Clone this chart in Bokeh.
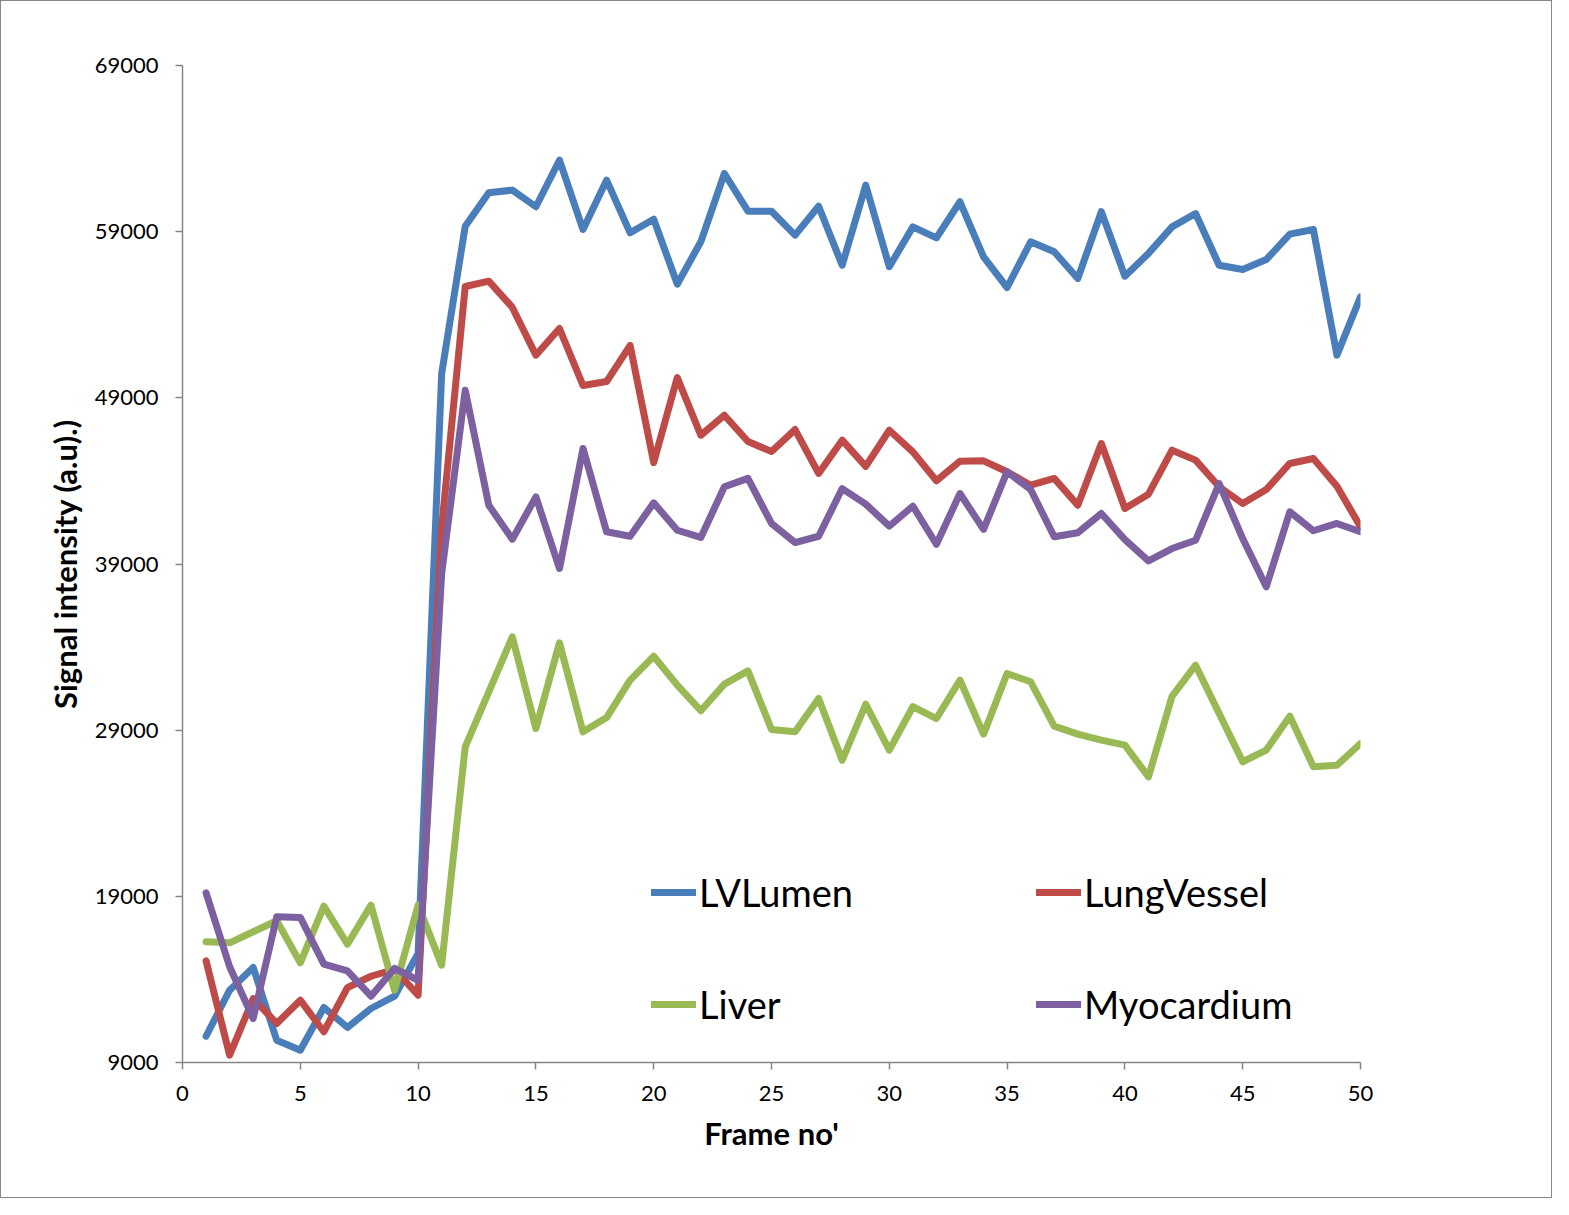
from bokeh.plotting import figure
from bokeh.models import Range1d, FixedTicker, Legend, LegendItem
from bokeh.embed import file_html
from bokeh.resources import INLINE

frames = list(range(1, 51))

lv_lumen = [10580, 13350, 14720, 10340, 9740, 12310, 11110, 12250, 12990, 15560,
            50460, 59330, 61340, 61500, 60500, 63300, 59130, 62100, 58930, 59750,
            55840, 58390, 62500, 60230, 60230, 58790, 60530, 56980, 61800, 56890,
            59290, 58630, 60800, 57490, 55640, 58390, 57790, 56180, 60200, 56320,
            57690, 59290, 60090, 56980, 56720, 57320, 58850, 59130, 51570, 55080]

lung_vessel = [15120, 9440, 12850, 11350, 12750, 10850, 13510, 14190, 14600, 13050,
               41200, 55700, 56020, 54440, 51570, 53170, 49740, 49980, 52150, 45110,
               50220, 46750, 47950, 46370, 45770, 47090, 44450, 46450, 44870, 47050,
               45750, 44010, 45190, 45210, 44550, 43740, 44150, 42540, 46250, 42340,
               43200, 45850, 45250, 43650, 42640, 43480, 45050, 45350, 43680, 41240]

liver = [16260, 16200, 16870, 17530, 15000, 18410, 16120, 18470, 13350, 18470,
         14860, 28000, 31310, 34620, 29100, 34260, 28900, 29760, 32010, 33450,
         31710, 30170, 31770, 32570, 29040, 28900, 30910, 27190, 30560, 27800,
         30410, 29700, 32010, 28760, 32410, 31910, 29240, 28760, 28400, 28100,
         26190, 31040, 32910, 30000, 27100, 27800, 29840, 26800, 26890, 28200]

myocardium = [19210, 14760, 11650, 17770, 17730, 14920, 14520, 12990, 14660, 13950,
              38430, 49460, 42540, 40490, 43040, 38730, 45950, 40940, 40670, 42680,
              41030, 40600, 43650, 44150, 41440, 40290, 40670, 43540, 42600, 41280,
              42480, 40190, 43240, 41080, 44550, 43480, 40640, 40880, 42040, 40470,
              39190, 39930, 40430, 43840, 40530, 37630, 42140, 41000, 41440, 40940]

series_names = ["LVLumen", "LungVessel", "Liver", "Myocardium"]
series_values = [lv_lumen, lung_vessel, liver, myocardium]
series_colors = ["#4A7EBB", "#BE4B48", "#98B954", "#7D60A0"]

x_ticks = list(range(0, 51, 5))
y_ticks = list(range(9000, 69001, 10000))

FONT = "Lato"
AXIS_COLOR = "#868686"

p = figure(width=1552, height=1198, output_backend="svg", toolbar_location=None,
           x_range=Range1d(0, 50), y_range=Range1d(9000, 69000),
           min_border_left=181, min_border_right=193, min_border_top=64,
           min_border_bottom=137)
p.styles = {"border": "1px solid #888888"}
p.outline_line_color = None
p.xgrid.visible = False
p.ygrid.visible = False
p.background_fill_color = "white"
p.border_fill_color = "white"

renderers = []
for name, vals, col in zip(series_names, series_values, series_colors):
    r = p.line(frames, vals, line_color=col, line_width=7,
               line_join="round", line_cap="round")
    renderers.append(r)

for ax in (p.xaxis[0], p.yaxis[0]):
    ax.axis_line_color = AXIS_COLOR
    ax.axis_line_width = 1.5
    ax.major_tick_line_color = AXIS_COLOR
    ax.major_tick_line_width = 1.5
    ax.major_tick_in = 0
    ax.major_tick_out = 7
    ax.minor_tick_line_color = None
    ax.major_label_text_font = FONT
    ax.major_label_text_font_size = "22px"
    ax.major_label_text_color = "black"
    ax.axis_label_text_font = FONT
    ax.axis_label_text_font_style = "bold"
    ax.axis_label_text_font_size = "31px"
    ax.axis_label_text_color = "black"

p.xaxis[0].ticker = FixedTicker(ticks=x_ticks)
p.yaxis[0].ticker = FixedTicker(ticks=y_ticks)
p.xaxis[0].major_label_standoff = 16
p.yaxis[0].major_label_standoff = 17
p.xaxis[0].axis_label = "Frame no'"
p.yaxis[0].axis_label = "Signal intensity (a.u).)"
p.xaxis[0].axis_label_standoff = 10
p.yaxis[0].axis_label_standoff = 8

# legend entries: (index, x offset in frame px, bottom offset in frame px)
legend_pos = [(0, 469, 147), (1, 854, 147), (2, 469, 35), (3, 854, 35)]
for idx, lx, ly in legend_pos:
    leg = Legend(items=[LegendItem(label=series_names[idx], renderers=[renderers[idx]])],
                 location=(lx, ly), padding=0, margin=0, spacing=0,
                 glyph_width=45, glyph_height=40, label_height=40,
                 label_standoff=3, border_line_color=None,
                 background_fill_alpha=0,
                 label_text_font=FONT, label_text_font_size="38px",
                 label_text_color="black")
    p.add_layout(leg, "center")

open("out.html", "w").write(file_html(p, INLINE))
